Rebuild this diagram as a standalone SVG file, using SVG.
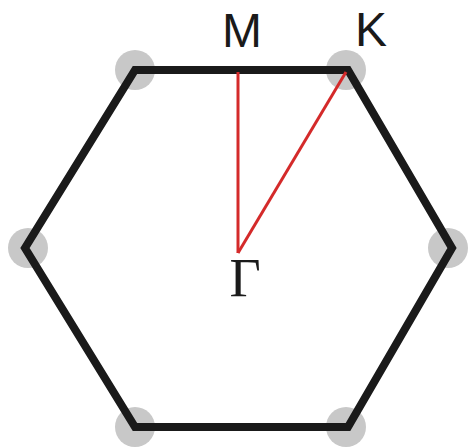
<svg xmlns="http://www.w3.org/2000/svg" width="470" height="448" viewBox="0 0 470 448">
<style>
.pt{fill:#c8c8c8}
.edge{fill:none;stroke:#1a1a1a;stroke-width:8;stroke-linejoin:miter}
.red{stroke:#d42a2a;stroke-width:3;fill:none}
.lbl{font-family:"Liberation Sans",Arial,sans-serif;font-size:48px;fill:#1a1a1a;text-anchor:middle}
.gam{font-family:"Liberation Serif","Times New Roman",serif;font-size:54px;fill:#1a1a1a;text-anchor:middle}
</style>
<rect width="470" height="448" fill="#fff"/>
<g id="vertices">
<circle class="pt" cx="135" cy="70" r="20"/>
<circle class="pt" cx="346" cy="70" r="20"/>
<circle class="pt" cx="448" cy="248" r="20"/>
<circle class="pt" cx="346" cy="427" r="20"/>
<circle class="pt" cx="135" cy="427" r="20"/>
<circle class="pt" cx="28" cy="248" r="20"/>
</g>
<g id="hexagon">
<polygon class="edge" points="135,70 348,70 452,248 348,427 135,427 25,248"/>
</g>
<g id="connectors">
<line class="red" x1="238" y1="72" x2="238" y2="253"/>
<line class="red" x1="346" y1="72" x2="238" y2="253"/>
</g>
<g id="M"><text class="lbl" x="242" y="47">M</text></g>
<g id="K"><text class="lbl" x="371" y="46">K</text></g>
<g id="Gamma"><text class="gam" x="245" y="296">Γ</text></g>
</svg>
